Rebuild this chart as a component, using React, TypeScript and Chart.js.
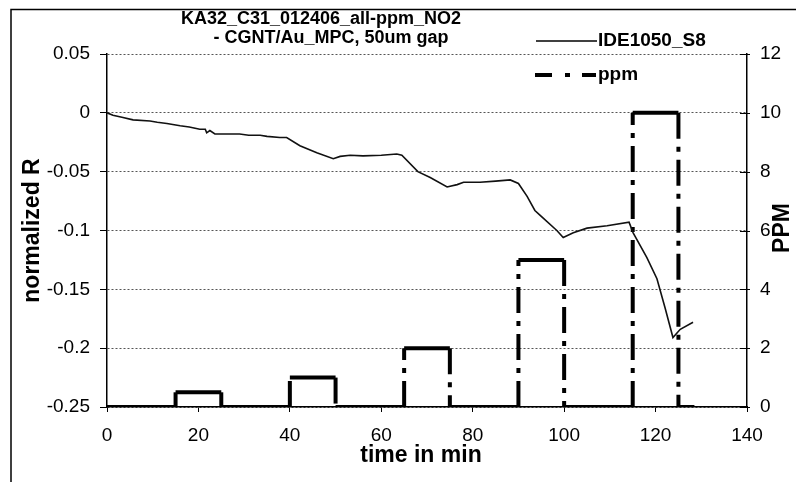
import React, { useEffect, useRef } from "react";
import { Chart, registerables } from "chart.js";

Chart.register(...registerables);

// ---- data ----
const sensorTime = [0, 1.3, 3.5, 5.7, 9.4, 11, 13.1, 16, 18, 20.3, 21.5, 21.8, 22.5, 23.6, 26, 29, 31, 33.5, 35, 37.8, 39.3, 42.2, 45.9, 49.5, 51, 53.2, 56, 60, 63.4, 64.5, 68, 70.7, 74.4, 76.6, 78, 81.6, 85, 88.2, 90, 91.9, 93.6, 94.7, 98.4, 99.8, 102, 105, 109.4, 114.2, 115.1, 118.1, 120.3, 122.1, 123.8, 125.4, 128.2];
const sensorValue = [0, -0.002, -0.004, -0.006, -0.007, -0.008, -0.009, -0.011, -0.012, -0.014, -0.014, -0.017, -0.015, -0.018, -0.018, -0.018, -0.019, -0.019, -0.02, -0.021, -0.021, -0.028, -0.034, -0.039, -0.037, -0.036, -0.0366, -0.036, -0.035, -0.036, -0.05, -0.055, -0.063, -0.061, -0.059, -0.059, -0.058, -0.057, -0.06, -0.071, -0.083, -0.087, -0.1, -0.106, -0.102, -0.098, -0.096, -0.093, -0.102, -0.123, -0.141, -0.166, -0.191, -0.184, -0.178];

const ppmTime = [0, 15, 15, 25, 25, 40, 40, 50, 50, 65, 65, 75, 75, 90, 90, 100, 100, 115, 115, 125, 125, 128.5];
const ppmValue = [0, 0, 0.5, 0.5, 0, 0, 1, 1, 0, 0, 2, 2, 0, 0, 5, 5, 0, 0, 10, 10, 0, 0];

const xTicks = [0, 20, 40, 60, 80, 100, 120, 140];
const leftTicks = [0.05, 0, -0.05, -0.1, -0.15, -0.2, -0.25];
const rightTicks = [0, 2, 4, 6, 8, 10, 12];

const titleLines = ["KA32_C31_012406_all-ppm_NO2", "- CGNT/Au_MPC, 50um gap"];
const seriesNames = ["IDE1050_S8", "ppm"];
const xTitle = "time in min";
const yTitle = "normalized R";
const y2Title = "PPM";

const FONT = '"Liberation Sans", Arial, Helvetica, sans-serif';
const VDASH = [26, 8, 5, 8];
const SOLID = [5000, 1];

const decor = {
  id: "decor",
  afterDraw(chart: any) {
    const ctx = chart.ctx as CanvasRenderingContext2D;
    const a = chart.chartArea;
    ctx.save();
    // outer frame
    ctx.strokeStyle = "#000";
    ctx.lineWidth = 1.5;
    ctx.beginPath();
    ctx.moveTo(11, 482);
    ctx.lineTo(11, 9.5);
    ctx.lineTo(796, 9.5);
    ctx.stroke();

    // inner ticks on right axis
    const y2 = chart.scales.y2;
    ctx.lineWidth = 1;
    rightTicks.forEach((v) => {
      const p = Math.round(y2.getPixelForValue(v)) + 0.5;
      ctx.beginPath();
      ctx.moveTo(a.right - 7, p);
      ctx.lineTo(a.right + 3, p);
      ctx.stroke();
    });

    ctx.fillStyle = "#000";
    ctx.textAlign = "center";
    ctx.textBaseline = "middle";
    ctx.font = `bold 18px ${FONT}`;
    ctx.fillText(titleLines[0], 321, 19);
    ctx.fillText(titleLines[1], 331, 38);

    ctx.font = `bold 23px ${FONT}`;
    ctx.fillText(xTitle, (a.left + a.right) / 2 - 6, 456);
    ctx.save();
    ctx.translate(33, (a.top + a.bottom) / 2);
    ctx.rotate(-Math.PI / 2);
    ctx.fillText(yTitle, 0, 0);
    ctx.restore();
    ctx.save();
    ctx.translate(783, 228);
    ctx.rotate(-Math.PI / 2);
    ctx.fillText(y2Title, 0, 0);
    ctx.restore();

    // legend
    ctx.textAlign = "left";
    ctx.font = `bold 19px ${FONT}`;
    ctx.lineWidth = 1.3;
    ctx.beginPath();
    ctx.moveTo(536, 41);
    ctx.lineTo(597, 41);
    ctx.stroke();
    ctx.fillText(seriesNames[0], 598, 41);
    ctx.lineWidth = 4;
    ctx.setLineDash([17, 13, 5, 12]);
    ctx.beginPath();
    ctx.moveTo(535, 75);
    ctx.lineTo(596, 75);
    ctx.stroke();
    ctx.setLineDash([]);
    ctx.fillText(seriesNames[1], 598, 75);
    ctx.restore();
  },
};

const fmt = (v: number) => String(Math.round(v * 100) / 100);

export default function App() {
  const ref = useRef<HTMLCanvasElement | null>(null);
  useEffect(() => {
    const canvas = ref.current!;
    const chart = new Chart(canvas, {
      type: "line",
      data: {
        datasets: [
          {
            label: seriesNames[0],
            data: sensorTime.map((t, i) => ({ x: t, y: sensorValue[i] })),
            yAxisID: "y",
            borderColor: "#111",
            borderWidth: 1.6,
            pointRadius: 0,
            tension: 0,
          },
          {
            label: seriesNames[1],
            data: ppmTime.map((t, i) => ({ x: t, y: ppmValue[i] })),
            yAxisID: "y2",
            borderColor: "#000",
            borderWidth: 4,
            borderDash: SOLID,
            borderCapStyle: "butt",
            pointRadius: 0,
            tension: 0,
            segment: {
              borderDash: (c: any) => (c.p0.parsed.x === c.p1.parsed.x ? VDASH : SOLID),
            },
          } as any,
        ],
      },
      options: {
        animation: false,
        responsive: false,
        devicePixelRatio: 1,
        layout: { padding: { top: 54, left: 0, right: 0, bottom: 0 } },
        plugins: { legend: { display: false }, title: { display: false }, tooltip: { enabled: false } },
        scales: {
          x: {
            type: "linear",
            min: 0,
            max: 140,
            afterBuildTicks: (s: any) => { s.ticks = xTicks.map((v) => ({ value: v })); },
            afterFit: (s: any) => { s.height = 75; },
            ticks: { color: "#000", font: { family: FONT, size: 19 }, padding: 12, maxRotation: 0, callback: (v: any) => fmt(v) },
            grid: { display: true, drawOnChartArea: false, drawTicks: true, tickLength: 5, color: "#000" },
            border: { display: true, color: "#000", width: 1.5 },
          },
          y: {
            type: "linear",
            position: "left",
            min: -0.25,
            max: 0.05,
            afterBuildTicks: (s: any) => { s.ticks = leftTicks.map((v) => ({ value: v })); },
            afterFit: (s: any) => { s.width = 107; },
            ticks: { color: "#000", font: { family: FONT, size: 19 }, padding: 10, callback: (v: any) => fmt(v) },
            grid: { display: true, drawOnChartArea: true, drawTicks: true, tickLength: 7, color: "#555", tickColor: "#000" },
            border: { display: true, color: "#000", width: 1.5, dash: [2, 2] },
          },
          y2: {
            type: "linear",
            position: "right",
            min: 0,
            max: 12,
            afterBuildTicks: (s: any) => { s.ticks = rightTicks.map((v) => ({ value: v })); },
            afterFit: (s: any) => { s.width = 49; },
            ticks: { color: "#000", font: { family: FONT, size: 19 }, padding: 13, callback: (v: any) => fmt(v) },
            grid: { display: false, drawOnChartArea: false, drawTicks: false },
            border: { display: true, color: "#000", width: 1.5 },
          },
        },
      } as any,
      plugins: [decor],
    });
    return () => chart.destroy();
  }, []);
  return (
    <div style={{ position: "fixed", left: 0, top: 0, width: 796, height: 482, background: "#fff" }}>
      <canvas ref={ref} width={796} height={482} style={{ display: "block", width: 796, height: 482 }} />
    </div>
  );
}
